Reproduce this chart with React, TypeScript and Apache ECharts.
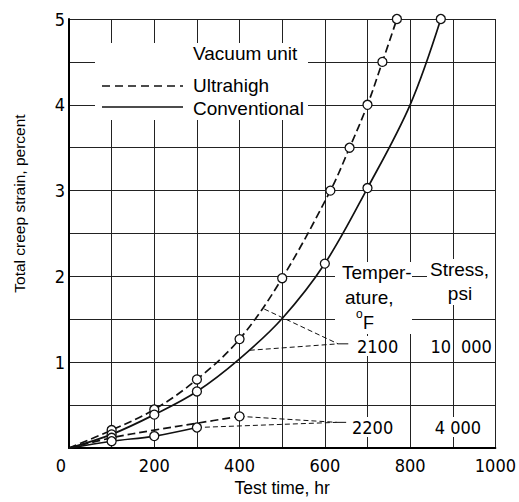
import React, { useEffect, useRef } from "react";
import * as echarts from "echarts";

// ---- data ----
const xTicks = [0, 200, 400, 600, 800, 1000];
const yTicks = [1, 2, 3, 4, 5];

// 2100 F, 10 000 psi, ultrahigh vacuum (dashed)
const uh2100Points = [
  [100, 0.21], [200, 0.45], [300, 0.8], [400, 1.27], [500, 1.98],
  [613, 3.0], [658, 3.5], [700, 4.0], [735, 4.5], [769, 5.0],
];
const uh2100Curve = [[0, 0], ...uh2100Points];

// 2100 F, conventional vacuum (solid)
const cv2100Points = [
  [100, 0.16], [200, 0.39], [300, 0.66], [600, 2.15], [700, 3.03], [872, 5.0],
];
const cv2100Curve = [
  [0, 0], [100, 0.16], [200, 0.39], [300, 0.66], [400, 1.04], [500, 1.51],
  [600, 2.15], [700, 3.03], [800, 4.0], [872, 5.0],
];

// 2200 F, 4 000 psi, ultrahigh vacuum (dashed)
const uh2200Points = [[100, 0.12], [400, 0.37]];
const uh2200Curve = [[0, 0], [100, 0.12], [200, 0.21], [300, 0.29], [400, 0.37]];

// 2200 F, conventional vacuum (solid)
const cv2200Points = [[100, 0.08], [200, 0.14], [300, 0.24]];
const cv2200Curve = [[0, 0], ...cv2200Points];

// leader lines from labels to curves
const leader2100Upper = [[458, 1.62], [631, 1.215]];
const leader2100Lower = [[424, 1.14], [631, 1.215]];
const leader2100Stub = [[631, 1.215], [655, 1.215]];
const leader2200Upper = [[400, 0.37], [628, 0.3]];
const leader2200Lower = [[300, 0.24], [628, 0.3]];
const leader2200Stub = [[628, 0.3], [650, 0.3]];

const legendTitle = "Vacuum unit";
const legendNames = ["Ultrahigh", "Conventional"];
const tableHead = ["Temper-", "ature,", "o", "F", "Stress,", "psi"];
const temps = ["2100", "2200"];
const stresses = ["10 000", "4 000"];

const FONT_TEXT = "'Liberation Sans', Arial, sans-serif";
const FONT_NUM = "'DejaVu Sans Condensed', 'Liberation Sans', sans-serif";
const NUM_SIZE = 18;
const INK = "#111";

export default function App() {
  const ref = useRef<HTMLDivElement>(null);
  useEffect(() => {
    if (!ref.current) return;
    const chart = echarts.init(ref.current, undefined, { renderer: "svg" });

    const curve = (data: number[][], dashed: boolean) => ({
      type: "line",
      data,
      smooth: 0.35,
      showSymbol: false,
      symbol: "none",
      silent: true,
      z: 3,
      lineStyle: { color: INK, width: 1.7, type: dashed ? [8, 4] : "solid" },
    });
    const marks = (data: number[][]) => ({
      type: "scatter",
      data,
      symbol: "circle",
      symbolSize: 9,
      z: 5,
      itemStyle: { color: "#fff", borderColor: INK, borderWidth: 1.3, opacity: 1 },
    });
    const leader = (data: number[][], dashed: boolean) => ({
      type: "line",
      data,
      showSymbol: false,
      symbol: "none",
      silent: true,
      z: 2,
      lineStyle: { color: INK, width: 1, type: dashed ? [5, 3] : "solid" },
    });

    const txt = (
      text: string,
      x: number,
      y: number,
      opts: { size?: number; family?: string; align?: string; bg?: boolean } = {}
    ) => ({
      type: "text",
      x,
      y,
      z: 20,
      style: {
        text,
        fill: "#000",
        fontSize: opts.size ?? 19,
        fontFamily: opts.family ?? FONT_TEXT,
        align: opts.align ?? "left",
        verticalAlign: "middle",
        textAlign: opts.align ?? "left",
        textVerticalAlign: "middle",
        backgroundColor: opts.bg ? "#fff" : undefined,
        padding: opts.bg ? [1, 2, 1, 2] : undefined,
      },
    });
    const mask = (x: number, y: number, w: number, h: number) => ({
      type: "rect",
      shape: { x, y, width: w, height: h },
      z: 1,
      style: { fill: "#fff" },
      silent: true,
    });

    chart.setOption({
      animation: false,
      backgroundColor: "#fff",
      grid: { left: 69, right: 18, top: 19, bottom: 51 },
      xAxis: {
        type: "value",
        min: 0,
        max: 1000,
        interval: 100,
        axisLine: { show: true, lineStyle: { color: "#000", width: 2 } },
        axisTick: { show: false },
        splitLine: { show: true, lineStyle: { color: "#222", width: 1 } },
        axisLabel: {
          color: "#000",
          fontFamily: FONT_NUM,
          fontSize: NUM_SIZE,
          margin: 8,
          formatter: (v: number) =>
            v === 0 ? "{z|0}" : xTicks.includes(v) ? String(v) : "",
          rich: {
            z: { fontFamily: FONT_NUM, fontSize: NUM_SIZE, color: "#000", padding: [0, 16, 0, 0] },
          },
        },
        name: "Test time, hr",
        nameLocation: "middle",
        nameGap: 26,
        nameTextStyle: { color: "#000", fontFamily: FONT_TEXT, fontSize: 17.5 },
      },
      yAxis: {
        type: "value",
        min: 0,
        max: 5,
        interval: 0.5,
        axisLine: { show: true, lineStyle: { color: "#000", width: 2 } },
        axisTick: { show: false },
        splitLine: { show: true, lineStyle: { color: "#222", width: 1 } },
        axisLabel: {
          color: "#000",
          fontFamily: FONT_NUM,
          fontSize: NUM_SIZE,
          margin: 4,
          formatter: (v: number) => (yTicks.includes(v) ? String(v) : ""),
        },
        name: "Total creep strain, percent",
        nameLocation: "middle",
        nameGap: 42,
        nameTextStyle: {
          color: "#000",
          fontFamily: FONT_TEXT,
          fontSize: 15.5,
          padding: [0, 0, 0, 60],
        },
      },
      series: [
        leader(leader2100Upper, true),
        leader(leader2100Lower, true),
        leader(leader2100Stub, false),
        leader(leader2200Upper, true),
        leader(leader2200Lower, true),
        leader(leader2200Stub, false),
        curve(uh2100Curve, true),
        curve(cv2100Curve, false),
        curve(uh2200Curve, true),
        curve(cv2200Curve, false),
        marks(uh2100Points),
        marks(cv2100Points),
        marks(uh2200Points),
        marks(cv2200Points),
      ],
      graphic: [
        mask(95, 43, 213, 77),
        mask(335, 262, 77, 72),
        mask(427, 259, 68, 46),
        {
          type: "line",
          z: 10,
          shape: { x1: 102, y1: 86, x2: 183, y2: 86 },
          style: { stroke: INK, lineWidth: 1.5, lineDash: [8, 5] },
        },
        {
          type: "line",
          z: 10,
          shape: { x1: 102, y1: 107, x2: 183, y2: 107 },
          style: { stroke: INK, lineWidth: 1.5 },
        },
        txt(legendTitle, 193, 53),
        txt(legendNames[0], 193, 85),
        txt(legendNames[1], 193, 108),
        txt(tableHead[0], 342, 272),
        txt(tableHead[1], 345, 297),
        txt(tableHead[2], 356, 314, { size: 12 }),
        txt(tableHead[3], 363, 323, { size: 18 }),
        txt(tableHead[4], 430, 269),
        txt(tableHead[5], 460, 293, { align: "center" }),
        txt(temps[0], 355, 346, { family: FONT_NUM, size: NUM_SIZE, bg: true }),
        txt(stresses[0].split(" ")[0], 451, 346, { family: FONT_NUM, size: NUM_SIZE, align: "right" }),
        txt(stresses[0].split(" ")[1], 461, 346, { family: FONT_NUM, size: NUM_SIZE }),
        txt(temps[1], 350, 427, { family: FONT_NUM, size: NUM_SIZE, bg: true }),
        txt(stresses[1], 458, 427, { family: FONT_NUM, size: NUM_SIZE, align: "center", bg: true }),
      ],
    });
    return () => chart.dispose();
  }, []);
  return (
    <div
      ref={ref}
      style={{ position: "fixed", left: 0, top: 0, width: 519, height: 502, background: "#fff" }}
    />
  );
}
